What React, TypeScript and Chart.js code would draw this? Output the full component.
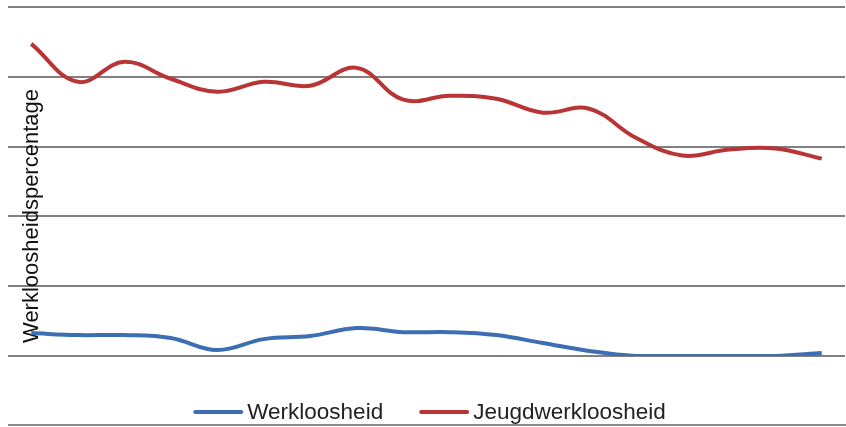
import React, { useEffect, useRef } from "react";
import { Chart, registerables } from "chart.js";

Chart.register(...registerables);

const categories = ["1", "2", "3", "4", "5", "6", "7", "8", "9", "10", "11", "12", "13", "14", "15", "16", "17", "18"];
const werkloosheid = [1.64, 1.5, 1.5, 1.29, 0.43, 1.21, 1.43, 2.0, 1.71, 1.71, 1.5, 0.93, 0.36, 0.0, 0.0, 0.0, 0.0, 0.21];
const jeugdwerkloosheid = [22.36, 19.64, 21.07, 19.86, 18.93, 19.64, 19.36, 20.64, 18.36, 18.64, 18.43, 17.43, 17.71, 15.64, 14.36, 14.79, 14.86, 14.14];
const yTicks = [0, 5, 10, 15, 20, 25];
const seriesLabels = ["Werkloosheid", "Jeugdwerkloosheid"];
const yTitle = "Werkloosheidspercentage";

const BLUE = "#3d6db3";
const RED = "#b93434";
const FONT = "'Liberation Sans', Arial, sans-serif";

export default function App() {
  const ref = useRef<HTMLCanvasElement | null>(null);

  useEffect(() => {
    const canvas = ref.current;
    if (!canvas) return;

    const overlay = {
      id: "overlay",
      beforeDatasetsDraw(chart: any) {
        const ctx = chart.ctx;
        ctx.save();
        ctx.translate(32, 216);
        ctx.rotate(-Math.PI / 2);
        ctx.font = `22px ${FONT}`;
        ctx.fillStyle = "#111";
        ctx.textAlign = "center";
        ctx.textBaseline = "middle";
        ctx.fillText(yTitle, 0, 0);
        ctx.restore();
      },
      afterDraw(chart: any) {
        const ctx = chart.ctx;
        const area = chart.chartArea;
        ctx.save();
        // bottom border line
        ctx.strokeStyle = "#8a8a8a";
        ctx.lineWidth = 2;
        ctx.beginPath();
        ctx.moveTo(8, 425);
        ctx.lineTo(chart.width, 425);
        ctx.stroke();
        // legend
        ctx.font = `22.5px ${FONT}`;
        const sample = 50;
        const gap = 4;
        const itemGap = 36;
        const ds = chart.data.datasets;
        const widths = ds.map((d: any) => ctx.measureText(d.label).width);
        const total = widths.reduce((a: number, w: number) => a + sample + gap + w, 0) + itemGap * (ds.length - 1);
        let x = (area.left + area.right) / 2 + 3 - total / 2;
        const y = 412;
        ds.forEach((d: any, i: number) => {
          ctx.strokeStyle = d.borderColor;
          ctx.lineWidth = 4;
          ctx.lineCap = "round";
          ctx.beginPath();
          ctx.moveTo(x + 2, y);
          ctx.lineTo(x + sample - 2, y);
          ctx.stroke();
          ctx.fillStyle = "#222";
          ctx.textAlign = "left";
          ctx.textBaseline = "middle";
          ctx.fillText(d.label, x + sample + gap, y + 1);
          x += sample + gap + widths[i] + itemGap;
        });
        ctx.restore();
      },
    };

    const chart = new Chart(canvas, {
      type: "line",
      data: {
        labels: categories,
        datasets: [
          {
            label: seriesLabels[0],
            data: werkloosheid,
            borderColor: BLUE,
            backgroundColor: BLUE,
            borderWidth: 4,
            pointRadius: 0,
            tension: 0.4,
            fill: false,
          },
          {
            label: seriesLabels[1],
            data: jeugdwerkloosheid,
            borderColor: RED,
            backgroundColor: RED,
            borderWidth: 4,
            pointRadius: 0,
            tension: 0.4,
            fill: false,
          },
        ],
      },
      options: {
        responsive: false,
        animation: false,
        layout: { padding: { top: 7, bottom: 71, left: 8, right: 1 } },
        plugins: {
          legend: { display: false },
          tooltip: { enabled: false },
        },
        scales: {
          x: {
            display: false,
            offset: true,
          },
          y: {
            min: yTicks[0],
            max: yTicks[yTicks.length - 1],
            afterBuildTicks: (s: any) => {
              s.ticks = yTicks.map((v) => ({ value: v }));
            },
            afterFit: (s: any) => {
              s.width = 0;
            },
            ticks: { display: false },
            border: { display: false },
            grid: { color: "#808080", lineWidth: 2, drawTicks: false },
          },
        },
      },
      plugins: [overlay],
    });

    return () => chart.destroy();
  }, []);

  return (
    <div style={{ position: "absolute", left: 0, top: 0, width: 846, height: 427, background: "#fff" }}>
      <canvas ref={ref} width={846} height={427} style={{ display: "block" }} />
    </div>
  );
}
